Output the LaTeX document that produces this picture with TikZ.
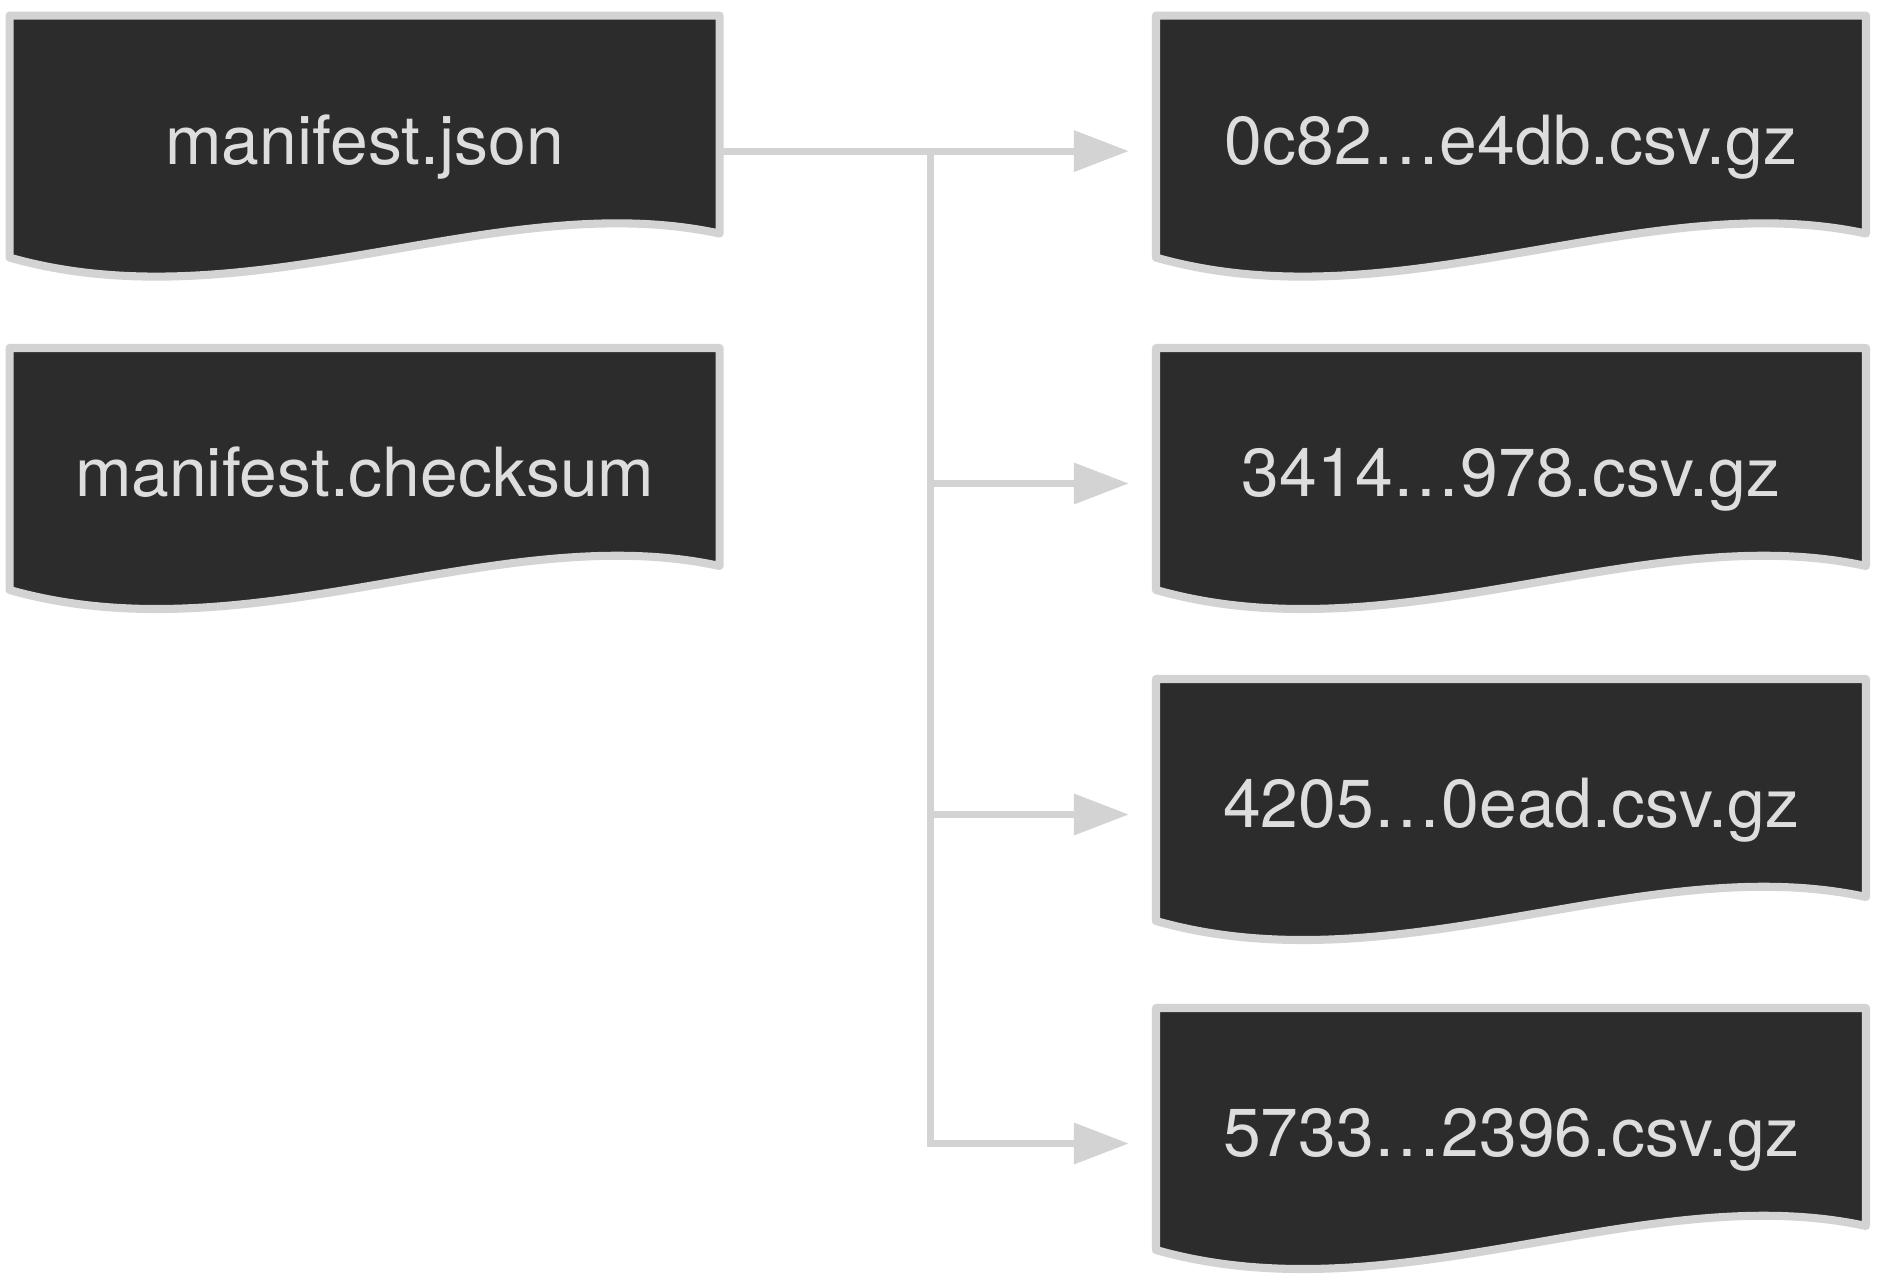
\documentclass[tikz,border=0pt]{standalone}
\usepackage{fontspec}
\setmainfont{TeX Gyre Heros}
\usetikzlibrary{arrows.meta, positioning}
\definecolor{docfill}{HTML}{2C2C2C}
\definecolor{docline}{HTML}{D3D3D3}
\definecolor{doctext}{HTML}{DDDDDD}
\tikzset{
  docshape/.style={draw=docline, fill=docfill, line width=2.3pt, line join=round},
  doclabel/.style={rectangle, minimum width=7.1cm, minimum height=2.71cm, inner sep=0pt, text height=0.5cm, text depth=0.24cm, text=doctext, font=\fontsize{19.3pt}{23pt}\selectfont},
  link/.style={draw=docline, line width=2pt, -{Triangle[length=0.55cm, width=0.40cm]}, shorten >=0.265cm}
}
% #1 name, #2 x, #3 y (top left corner), #4 label
\newcommand{\filedoc}[4]{
    \begin{scope}[shift={(#2,#3)}]
        \filldraw[docshape] (0,0) -- (7.1,0) -- (7.1,-2.18) .. controls (4.9,-1.70) and (2.4,-3.10) .. (0,-2.42) -- cycle;
        \node[doclabel] (#1) at (3.55,-1.355) {#4};
    \end{scope}
}

\begin{document}
\begin{tikzpicture}
    \useasboundingbox (0,0) rectangle (18.8,-12.82);

    % Manifiesto
    \filedoc{json}{0.096}{-0.156}{manifest.json}
    \filedoc{checksum}{0.096}{-3.48}{manifest.checksum}

    % Archivos de datos
    \filedoc{part1}{11.56}{-0.156}{0c82…e4db.csv.gz}
    \filedoc{part2}{11.56}{-3.48}{3414…978.csv.gz}
    \filedoc{part3}{11.56}{-6.79}{4205…0ead.csv.gz}
    \filedoc{part4}{11.56}{-10.08}{5733…2396.csv.gz}

    % Conexiones
    \coordinate (split) at (9.30,-1.511);
    \draw[link] (json.east) -- (split) -- (part1);
    \draw[link] (split) |- (part2);
    \draw[link] (split) |- (part3);
    \draw[link] (split) |- (part4);
\end{tikzpicture}
\end{document}
